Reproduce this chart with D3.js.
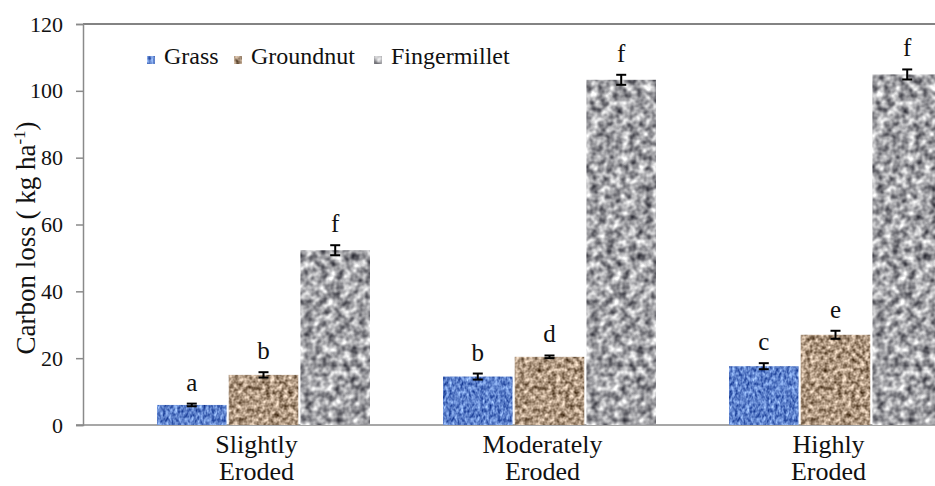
<!DOCTYPE html>
<html>
<head>
<meta charset="utf-8">
<script src="https://cdn.jsdelivr.net/npm/d3@7"></script>
</head>
<body style="margin:0">
<svg id="chart" width="935" height="486" font-family="Liberation Serif"></svg>
<script>
// ---- data ----
const categories = ["Slightly Eroded", "Moderately Eroded", "Highly Eroded"];
const categoryLines = [["Slightly", "Eroded"], ["Moderately", "Eroded"], ["Highly", "Eroded"]];
const series = ["Grass", "Groundnut", "Fingermillet"];
const grassValues = [6.0, 14.5, 17.6];
const groundnutValues = [15.0, 20.4, 27.0];
const fingermilletValues = [52.3, 103.3, 104.9];
const grassErrors = [0.4, 0.9, 0.9];
const groundnutErrors = [0.8, 0.4, 1.2];
const fingermilletErrors = [1.5, 1.5, 1.5];
const grassLetters = ["a", "b", "c"];
const groundnutLetters = ["b", "d", "e"];
const fingermilletLetters = ["f", "f", "f"];
const yTicks = [0, 20, 40, 60, 80, 100, 120];

const valuesBySeries = [grassValues, groundnutValues, fingermilletValues];
const errorsBySeries = [grassErrors, groundnutErrors, fingermilletErrors];
const lettersBySeries = [grassLetters, groundnutLetters, fingermilletLetters];

const FONT = "Liberation Serif";
const svg = d3.select("#chart");
const defs = svg.append("defs");

// textures (noise filters)
const textures = {
  Grass: { freq: "0.35 0.22", seed: 4, rows: [[0.9, -0.08], [0.9, 0.06], [0.7, 0.45]] },
  Groundnut: { freq: "0.22", seed: 9, rows: [[1.1, 0.13], [1.1, 0.04], [1.1, -0.05]] },
  Fingermillet: { freq: "0.13", seed: 2, rows: [[1.2, 0.04], [1.2, 0.04], [1.15, 0.08]] }
};
series.forEach(s => {
  const t = textures[s];
  const f = defs.append("filter").attr("id", "tex-" + s)
    .attr("x", 0).attr("y", 0).attr("width", 1).attr("height", 1)
    .attr("color-interpolation-filters", "sRGB");
  f.append("feTurbulence").attr("type", "fractalNoise").attr("baseFrequency", t.freq)
    .attr("numOctaves", 2).attr("seed", t.seed).attr("result", "noise");
  const m = t.rows.map(r => `${r[0]} 0 0 0 ${r[1]}`).join(" ") + " 0 0 0 0 1";
  f.append("feColorMatrix").attr("in", "noise").attr("type", "matrix").attr("values", m).attr("result", "col");
  f.append("feComposite").attr("in", "col").attr("in2", "SourceGraphic").attr("operator", "in");
});

// ---- scales ----
const y = d3.scaleLinear().domain([0, 120]).range([425, 24]);
const x0 = d3.scaleBand().domain(categories).range([120.5, 978.5]);
const x1 = d3.scaleBand().domain(series)
  .range([x0.bandwidth() / 2 - 106.5, x0.bandwidth() / 2 + 106.5]).paddingInner(0.03);

const axisLeftX = 83;

// top frame line
svg.append("line").attr("x1", axisLeftX).attr("x2", 935).attr("y1", y(120)).attr("y2", y(120))
  .attr("stroke", "#5a5a5a").attr("stroke-width", 1.5);

// y axis
const yAxis = d3.axisLeft(y).tickValues(yTicks).tickSize(7).tickPadding(13);
const gy = svg.append("g").attr("transform", `translate(${axisLeftX},0)`).call(yAxis)
  .attr("font-family", FONT).attr("font-size", 22);
gy.select(".domain").attr("stroke", "#8a8a8a").attr("stroke-width", 1.5);
gy.selectAll(".tick line").attr("stroke", "#8a8a8a").attr("stroke-width", 1.5);
gy.selectAll(".tick text").attr("fill", "#111").style("font-family", FONT);

// x axis line
svg.append("line").attr("x1", 76).attr("x2", 935).attr("y1", y(0)).attr("y2", y(0))
  .attr("stroke", "#8a8a8a").attr("stroke-width", 1.5);

// bars
const groups = svg.append("g").selectAll("g").data(categories).join("g")
  .attr("transform", d => `translate(${x0(d)},0)`);

series.forEach((s, si) => {
  groups.append("rect")
    .attr("x", x1(s))
    .attr("width", x1.bandwidth())
    .attr("y", (d, i) => y(valuesBySeries[si][i]))
    .attr("height", (d, i) => y(0) - y(valuesBySeries[si][i]))
    .attr("fill", "#888")
    .attr("filter", `url(#tex-${s})`);
});

// error bars + letters
series.forEach((s, si) => {
  const cx = x1(s) + x1.bandwidth() / 2;
  groups.each(function(d, i) {
    const g = d3.select(this);
    const v = valuesBySeries[si][i], e = errorsBySeries[si][i];
    g.append("line").attr("x1", cx).attr("x2", cx).attr("y1", y(v - e)).attr("y2", y(v + e))
      .attr("stroke", "#000").attr("stroke-width", 2);
    [v - e, v + e].forEach(val => {
      g.append("line").attr("x1", cx - 5).attr("x2", cx + 5).attr("y1", y(val)).attr("y2", y(val))
        .attr("stroke", "#000").attr("stroke-width", 2);
    });
    g.append("text").attr("x", cx).attr("y", y(v + e) - 13).attr("text-anchor", "middle")
      .attr("fill", "#111").attr("font-size", 25).style("font-family", FONT)
      .text(lettersBySeries[si][i]);
  });
});

// category labels
groups.each(function(d, i) {
  const t = d3.select(this).append("text")
    .attr("x", x0.bandwidth() / 2 - 7).attr("y", 453)
    .attr("text-anchor", "middle").attr("fill", "#111")
    .attr("font-size", 26).style("font-family", FONT);
  categoryLines[i].forEach((ln, li) => {
    t.append("tspan").attr("x", x0.bandwidth() / 2 - 7).attr("dy", li === 0 ? 0 : 27).text(ln);
  });
});

// y title
const yt = svg.append("text")
  .attr("transform", "translate(35,238) rotate(-90)")
  .attr("text-anchor", "middle").attr("fill", "#111")
  .attr("font-size", 27).style("font-family", FONT);
yt.append("tspan").text("Carbon loss ( kg ha");
yt.append("tspan").attr("dy", -10).attr("font-size", 17).text("-1");
yt.append("tspan").attr("dy", 10).text(")");

// legend
const legendX = [147, 234, 374];
const legend = svg.append("g");
series.forEach((s, si) => {
  legend.append("rect").attr("x", legendX[si]).attr("y", 56).attr("width", 8).attr("height", 8)
    .attr("fill", "#888").attr("filter", `url(#tex-${s})`);
  legend.append("text").attr("x", legendX[si] + 17).attr("y", 64).attr("fill", "#111")
    .attr("font-size", 24).style("font-family", FONT).text(s);
});
</script>
</body>
</html>
